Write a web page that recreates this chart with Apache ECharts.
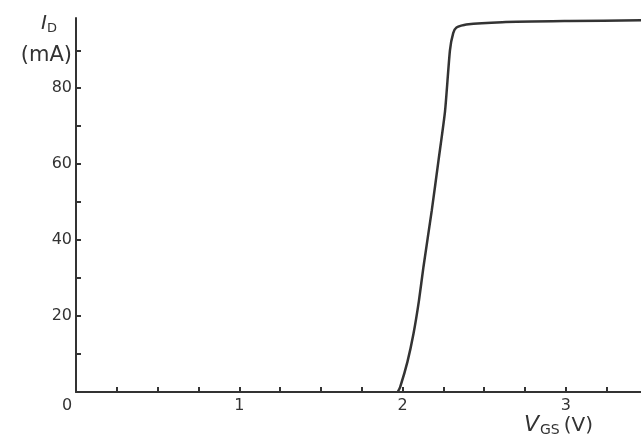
<!DOCTYPE html>
<html>
<head>
<meta charset="utf-8">
<script src="https://cdn.jsdelivr.net/npm/echarts@6/dist/echarts.min.js"></script>
<style>
  html, body { margin: 0; padding: 0; background: #fff; }
  #chart { width: 641px; height: 446px; }
</style>
</head>
<body>
<div id="chart"></div>
<script>
// transfer curve I_D vs V_GS
var vgs = [1.97, 1.985, 2.03, 2.067, 2.1, 2.128, 2.179, 2.22, 2.26, 2.29, 2.31, 2.33, 2.39, 2.61, 3.02, 3.46];
var idmA = [0, 1.3, 8, 15.4, 24, 33, 47.9, 61, 74, 90, 94.5, 96, 96.8, 97.4, 97.7, 97.9];
var xTicks = [0, 0.25, 0.5, 0.75, 1, 1.25, 1.5, 1.75, 2, 2.25, 2.5, 2.75, 3, 3.25];
var xLabels = [0, 1, 2, 3];
var yTicks = [10, 20, 30, 40, 50, 60, 70, 80, 90];
var yLabels = [20, 40, 60, 80];

var ink = '#333';
var font = 'DejaVu Sans';

var chart = echarts.init(document.getElementById('chart'));

var points = vgs.map(function (v, i) { return [v, idmA[i]]; });

chart.setOption({
  backgroundColor: '#fff',
  animation: false,
  grid: { left: 76, right: 0, top: 18, bottom: 54 },
  xAxis: {
    type: 'value',
    min: 0,
    max: 3.46,
    splitLine: { show: false },
    axisLine: { lineStyle: { color: ink, width: 2 } },
    axisTick: { inside: true, length: 5, customValues: xTicks, lineStyle: { color: ink, width: 2 } },
    axisLabel: {
      margin: 6,
      color: ink,
      fontFamily: font,
      fontSize: 16,
      customValues: xLabels,
      formatter: function (v) { return v === 0 ? '{o|0}' : String(v); },
      rich: { o: { padding: [0, 18, 8, 0], fontFamily: font, fontSize: 16, color: ink } }
    },
    name: '{v|V}{s|GS}{u|(V)}',
    nameLocation: 'end',
    nameGap: -48,
    nameTextStyle: {
      align: 'right',
      verticalAlign: 'top',
      padding: [22, 0, 0, 0],
      rich: {
        v: { fontFamily: font, fontStyle: 'italic', fontSize: 22, color: ink },
        s: { fontFamily: font, fontSize: 14, color: ink, padding: [9, 4, 0, 1] },
        u: { fontFamily: font, fontSize: 20, color: ink }
      }
    }
  },
  yAxis: {
    type: 'value',
    min: 0,
    max: 98.5,
    splitLine: { show: false },
    axisLine: { show: true, lineStyle: { color: ink, width: 2 } },
    axisTick: { show: true, inside: true, length: 5, customValues: yTicks, lineStyle: { color: ink, width: 2 } },
    axisLabel: {
      margin: 4,
      color: ink,
      fontFamily: font,
      fontSize: 16,
      customValues: yLabels
    },
    name: '{i|I}{d|D}\n{u|(mA)}',
    nameLocation: 'end',
    nameGap: 8,
    nameTextStyle: {
      align: 'right',
      verticalAlign: 'top',
      padding: [0, 4, 0, 0],
      rich: {
        i: { fontFamily: font, fontStyle: 'italic', fontSize: 20, color: ink, lineHeight: 28 },
        d: { fontFamily: font, fontSize: 13, color: ink, padding: [10, 15, 0, 0], lineHeight: 28 },
        u: { fontFamily: font, fontSize: 21, color: ink, lineHeight: 36 }
      }
    }
  },
  series: [{
    type: 'line',
    data: points,
    showSymbol: false,
    smooth: 0.2,
    lineStyle: { color: ink, width: 2.5 }
  }]
});
</script>
</body>
</html>
